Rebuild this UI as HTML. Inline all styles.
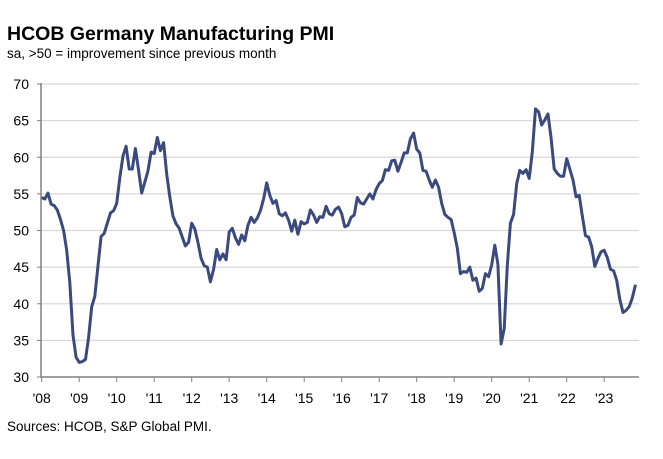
<!DOCTYPE html>
<html><head><meta charset="utf-8"><style>
body{margin:0;background:#fff;width:663px;height:454px;overflow:hidden;font-family:"Liberation Sans",Arial,sans-serif}
</style></head><body>
<svg width="663" height="454" xmlns="http://www.w3.org/2000/svg">
<text x="7" y="40" font-size="19.5" font-weight="bold" fill="#000">HCOB Germany Manufacturing PMI</text>
<text x="7" y="58" font-size="13.5" fill="#000">sa, &gt;50 = improvement since previous month</text>
<g id="grid"></g>
<g id="yl"></g>
<g id="xl"></g>
<path id="line" fill="none" stroke="#3b4a7e" stroke-width="3" stroke-linejoin="round"/>
<text x="7" y="431" font-size="13.5" fill="#000">Sources: HCOB, S&amp;P Global PMI.</text>
</svg>
<script>
const yTicks=[30,35,40,45,50,55,60,65,70];
const xLabels=["'08","'09","'10","'11","'12","'13","'14","'15","'16","'17","'18","'19","'20","'21","'22","'23"];
const pmi2008=[54.5,54.3,55.1,53.6,53.4,52.8,51.5,50.0,47.3,42.9,35.7,32.7];
const pmi2009=[32.0,32.1,32.4,35.4,39.6,41.0,45.2,49.2,49.6,51.0,52.4,52.7];
const pmi2010=[53.7,57.2,60.2,61.5,58.4,58.4,61.2,58.2,55.1,56.6,58.1,60.7];
const pmi2011=[60.5,62.7,60.9,62.0,57.7,54.6,52.0,50.9,50.3,49.1,47.9,48.4];
const pmi2012=[51.0,50.2,48.4,46.2,45.2,45.0,43.0,44.7,47.4,46.0,46.8,46.0];
const pmi2013=[49.8,50.3,49.0,48.1,49.4,48.6,50.7,51.8,51.1,51.7,52.7,54.3];
const pmi2014=[56.5,54.8,53.7,54.1,52.3,52.0,52.4,51.4,49.9,51.4,49.5,51.2];
const pmi2015=[50.9,51.1,52.8,52.1,51.1,51.9,51.8,53.3,52.3,52.1,52.9,53.2];
const pmi2016=[52.3,50.5,50.7,51.8,52.1,54.5,53.8,53.6,54.3,55.0,54.3,55.6];
const pmi2017=[56.4,56.8,58.3,58.2,59.5,59.6,58.1,59.3,60.6,60.6,62.5,63.3];
const pmi2018=[61.1,60.6,58.2,58.1,56.9,55.9,56.9,55.9,53.7,52.2,51.8,51.5];
const pmi2019=[49.7,47.6,44.1,44.4,44.3,45.0,43.2,43.5,41.7,42.1,44.1,43.7];
const pmi2020=[45.3,48.0,45.4,34.5,36.6,45.2,51.0,52.2,56.4,58.2,57.8,58.3];
const pmi2021=[57.1,60.7,66.6,66.2,64.4,65.1,65.9,62.6,58.4,57.8,57.4,57.4];
const pmi2022=[59.8,58.4,56.9,54.6,54.8,52.0,49.3,49.1,47.8,45.1,46.2,47.1];
const pmi2023=[47.3,46.3,44.7,44.5,43.2,40.6,38.8,39.1,39.6,40.8,42.6];
const values=[].concat(pmi2008,pmi2009,pmi2010,pmi2011,pmi2012,pmi2013,pmi2014,pmi2015,pmi2016,pmi2017,pmi2018,pmi2019,pmi2020,pmi2021,pmi2022,pmi2023);
const X0=41.7,YR=37.5,L=41,R=639;
const xs=i=>X0+i*YR/12;
const ys=v=>377-(v-30)*(293/40);
const NS="http://www.w3.org/2000/svg";
const grid=document.getElementById('grid'),yl=document.getElementById('yl'),xl=document.getElementById('xl');
yTicks.forEach(t=>{
 if(t>30){const g=document.createElementNS(NS,'line');
 g.setAttribute('x1',L);g.setAttribute('x2',R);g.setAttribute('y1',ys(t));g.setAttribute('y2',ys(t));
 g.setAttribute('stroke','#d9d9d9');g.setAttribute('stroke-width','1.3');
 
 
 grid.appendChild(g);}
 const tk=document.createElementNS(NS,'line');
 tk.setAttribute('x1',L-4);tk.setAttribute('x2',L);tk.setAttribute('y1',ys(t));tk.setAttribute('y2',ys(t));tk.setAttribute('stroke','#808080');
 
 
 grid.appendChild(tk);
 const tx=document.createElementNS(NS,'text');
 tx.setAttribute('x',29);tx.setAttribute('y',ys(t)+5);tx.setAttribute('text-anchor','end');tx.setAttribute('font-size','14');
 tx.textContent=t;
 
 
 yl.appendChild(tx);
});
const ax=document.createElementNS(NS,'path');
ax.setAttribute('d',`M${L} ${ys(70)-1}V${ys(30)}H${R}`);ax.setAttribute('stroke','#808080');ax.setAttribute('stroke-width','1.5');ax.setAttribute('fill','none');


grid.appendChild(ax);
xLabels.forEach((s,i)=>{
 const x=X0+i*YR;
 const tk=document.createElementNS(NS,'line');
 tk.setAttribute('x1',x);tk.setAttribute('x2',x);tk.setAttribute('y1',ys(30));tk.setAttribute('y2',ys(30)+5);tk.setAttribute('stroke','#808080');
 
 
 grid.appendChild(tk);
 const tx=document.createElementNS(NS,'text');
 tx.setAttribute('x',x);tx.setAttribute('y',403);tx.setAttribute('text-anchor','middle');tx.setAttribute('font-size','14');
 tx.textContent=s;
 
 
 xl.appendChild(tx);
});
document.getElementById('line').setAttribute('d',values.map((v,i)=>(i?'L':'M')+xs(i).toFixed(1)+' '+ys(v).toFixed(1)).join(''));
</script>
</body></html>
